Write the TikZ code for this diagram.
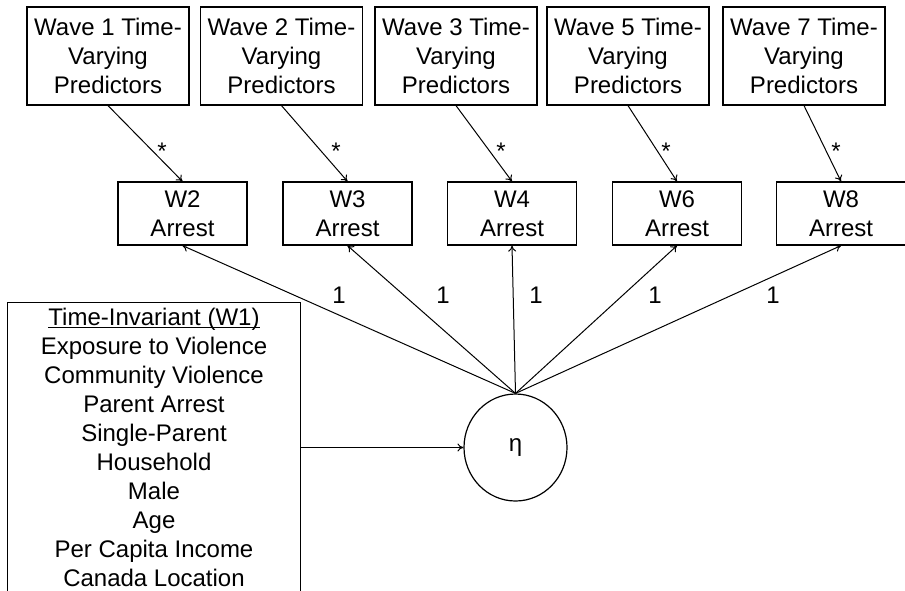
\documentclass[tikz,border=0pt]{standalone}
\usepackage{fontspec}
\setmainfont{Liberation Sans}
\usetikzlibrary{shapes.geometric,arrows.meta}
\begin{document}
\begin{tikzpicture}[x=0.75pt,y=-0.75pt,
  every node/.style={font=\fontsize{18}{21.75}\selectfont, inner sep=0pt},
  topbox/.style={draw, line width=0.9pt, minimum width=121.5pt, minimum height=73.5pt, align=center},
  wbox/.style={draw, line width=0.9pt, minimum width=96.75pt, minimum height=47.25pt, align=center},
  conn/.style={line width=0.75pt, -{To[length=4.5pt,width=6pt]}},
  lbl/.style={anchor=base}]
\useasboundingbox (0,0) rectangle (905,590);
\clip (0,0) rectangle (905,590);
% top boxes
\node[topbox] (p1) at (108,56) {Wave 1 Time-\\Varying\\Predictors};
\node[topbox] (p2) at (281.5,56) {Wave 2 Time-\\Varying\\Predictors};
\node[topbox] (p3) at (456,56) {Wave 3 Time-\\Varying\\Predictors};
\node[topbox] (p5) at (628,56) {Wave 5 Time-\\Varying\\Predictors};
\node[topbox] (p7) at (804,56) {Wave 7 Time-\\Varying\\Predictors};
% arrest boxes
\node[wbox] (w2) at (182.5,213.5) {W2\\Arrest};
\node[wbox] (w3) at (347.5,213.5) {W3\\Arrest};
\node[wbox] (w4) at (512,213.5) {W4\\Arrest};
\node[wbox] (w6) at (677,213.5) {W6\\Arrest};
\node[wbox] (w8) at (841,213.5) {W8\\Arrest};
% latent
\node[draw, ellipse, line width=0.9pt, minimum width=77.25pt, minimum height=80.25pt] (eta) at (515.5,447.5) {η};
% time-invariant box
\node[draw, line width=0.9pt, minimum width=219.75pt, minimum height=270pt, anchor=north] (inv) at (154,302) {};
\node[anchor=north, align=center] (invtxt) at (154,308) {\underline{\raisebox{0pt}[\height][0pt]{Time-Invariant (W1)}}\\Exposure to Violence\\Community Violence\\Parent Arrest\\Single-Parent\\Household\\Male\\Age\\Per Capita Income\\Canada Location};
% predictor arrows
\draw[conn] (p1.south) -- (w2.north);
\draw[conn] (p2.south) -- (w3.north);
\draw[conn] (p3.south) -- (w4.north);
\draw[conn] (p5.south) -- (w6.north);
\draw[conn] (p7.south) -- (w8.north);
\node[lbl] (s1) at (162,159) {*};
\node[lbl] (s2) at (336,159) {*};
\node[lbl] (s3) at (501,159) {*};
\node[lbl] (s5) at (666,159) {*};
\node[lbl] (s7) at (836,159) {*};
% loadings
\draw[conn] (eta.north) -- (w2.south);
\draw[conn] (eta.north) -- (w3.south);
\draw[conn] (eta.north) -- (w4.south);
\draw[conn] (eta.north) -- (w6.south);
\draw[conn] (eta.north) -- (w8.south);
\node[lbl] (l1) at (339,303) {1};
\node[lbl] (l2) at (443,303) {1};
\node[lbl] (l3) at (536,303) {1};
\node[lbl] (l4) at (655,303) {1};
\node[lbl] (l5) at (773,303) {1};
% covariates to latent
\draw[conn] (eta.west -| inv.east) -- (eta.west);
\end{tikzpicture}
\end{document}
